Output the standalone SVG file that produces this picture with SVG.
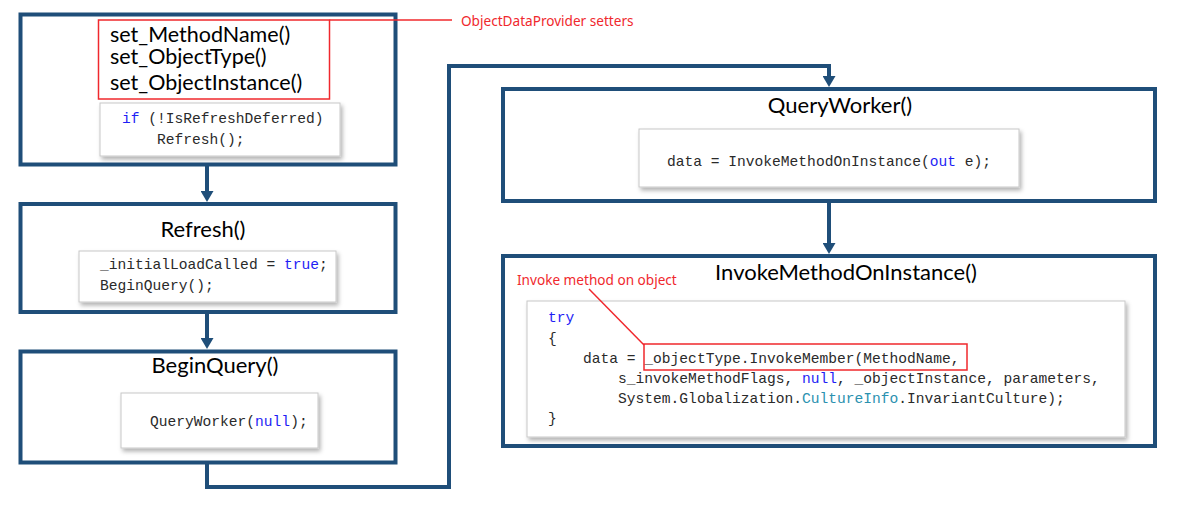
<svg xmlns="http://www.w3.org/2000/svg" width="1180" height="525" viewBox="0 0 1180 525">
<style>
.box{fill:#fff;stroke:#1f4e79;stroke-width:4}
.code{fill:#fff;stroke:#c8c8c8;stroke-width:1;filter:url(#sh)}
.title{font-family:Lato,"Open Sans",sans-serif;font-size:22px;fill:#000}
.set{font-size:21.5px}
.mono{font-family:"Liberation Mono","DejaVu Sans Mono",monospace;font-size:14.6px;fill:#2a2a2a;white-space:pre}
.kw{fill:#1e1ef5}
.ty{fill:#2b91af}
.red{fill:none;stroke:#f0282d;stroke-width:1.5}
.note{font-family:"Noto Sans","Open Sans",sans-serif;font-size:13.6px;fill:#f0282d}
.conn{fill:none;stroke:#1f4e79;stroke-width:4}
</style>
<defs>
<filter id="sh" x="-5%" y="-10%" width="115%" height="130%">
<feDropShadow dx="2" dy="3" stdDeviation="2" flood-color="#000" flood-opacity="0.3"/>
</filter>
<marker id="ah" markerWidth="12" markerHeight="13" refX="0" refY="6.5" orient="auto" markerUnits="userSpaceOnUse">
<path d="M0,0 L11,6.5 L0,13 z" fill="#1f4e79"/>
</marker>
<clipPath id="c2"><rect x="79" y="254" width="250" height="48"/></clipPath>
</defs>

<g id="connectors">
<path class="conn" d="M207,166 V191" marker-end="url(#ah)"/>
<path class="conn" d="M207,313 V338" marker-end="url(#ah)"/>
<path class="conn" d="M207,464 V487 H449 V66 H829 V76" marker-end="url(#ah)"/>
<path class="conn" d="M829,202 V243" marker-end="url(#ah)"/>
</g>

<g id="setters">
<rect class="box" x="20.5" y="14.5" width="375" height="150"/>
<rect class="red" x="98.5" y="20" width="231" height="79"/>
<path class="red" d="M329.5,20 H452"/>
<text class="title set" x="110" y="42">set_MethodName()<tspan x="110" y="64">set_ObjectType()</tspan><tspan x="110" y="90">set_ObjectInstance()</tspan></text>
<rect class="code" x="100" y="103" width="240" height="53"/>
<text class="mono" x="122" y="123"><tspan class="kw">if</tspan> (!IsRefreshDeferred)</text>
<text class="mono" x="157" y="144">Refresh();</text>
<text class="note" x="461" y="26">ObjectDataProvider setters</text>
</g>

<g id="refresh">
<rect class="box" x="20.5" y="204" width="375" height="108"/>
<text class="title" x="203" y="237" text-anchor="middle">Refresh()</text>
<rect class="code" x="79" y="251" width="257" height="51"/>
<g clip-path="url(#c2)">
<text class="mono" x="100" y="269">_initialLoadCalled = <tspan class="kw">true</tspan>;</text>
</g>
<text class="mono" x="100" y="290">BeginQuery();</text>
</g>

<g id="beginquery">
<rect class="box" x="20.5" y="351.5" width="375" height="111"/>
<text class="title" x="215" y="373" text-anchor="middle">BeginQuery()</text>
<rect class="code" x="121" y="393" width="197" height="55"/>
<text class="mono" x="150" y="426">QueryWorker(<tspan class="kw">null</tspan>);</text>
</g>

<g id="queryworker">
<rect class="box" x="503" y="89" width="652" height="112"/>
<text class="title" x="840" y="113" text-anchor="middle">QueryWorker()</text>
<rect class="code" x="639" y="129" width="380" height="58"/>
<text class="mono" x="667" y="166">data = InvokeMethodOnInstance(<tspan class="kw">out</tspan> e);</text>
</g>

<g id="invokemethod">
<rect class="box" x="503" y="256" width="652" height="190"/>
<text class="title" x="846" y="280" text-anchor="middle">InvokeMethodOnInstance()</text>
<rect class="code" x="527" y="301" width="598" height="136"/>
<text class="mono" x="548" y="322"><tspan class="kw">try</tspan></text>
<text class="mono" x="548" y="343">{</text>
<text class="mono" x="548" y="363">    data = _objectType.InvokeMember(MethodName,</text>
<text class="mono" x="548" y="383">        s_invokeMethodFlags, <tspan class="kw">null</tspan>, _objectInstance, parameters,</text>
<text class="mono" x="548" y="403">        System.Globalization.<tspan class="ty">CultureInfo</tspan>.InvariantCulture);</text>
<text class="mono" x="548" y="423">}</text>
<rect class="red" x="644" y="344" width="323" height="26"/>
<path class="red" d="M644,345 L589,289"/>
<text class="note" x="517" y="285">Invoke method on object</text>
</g>
</svg>
